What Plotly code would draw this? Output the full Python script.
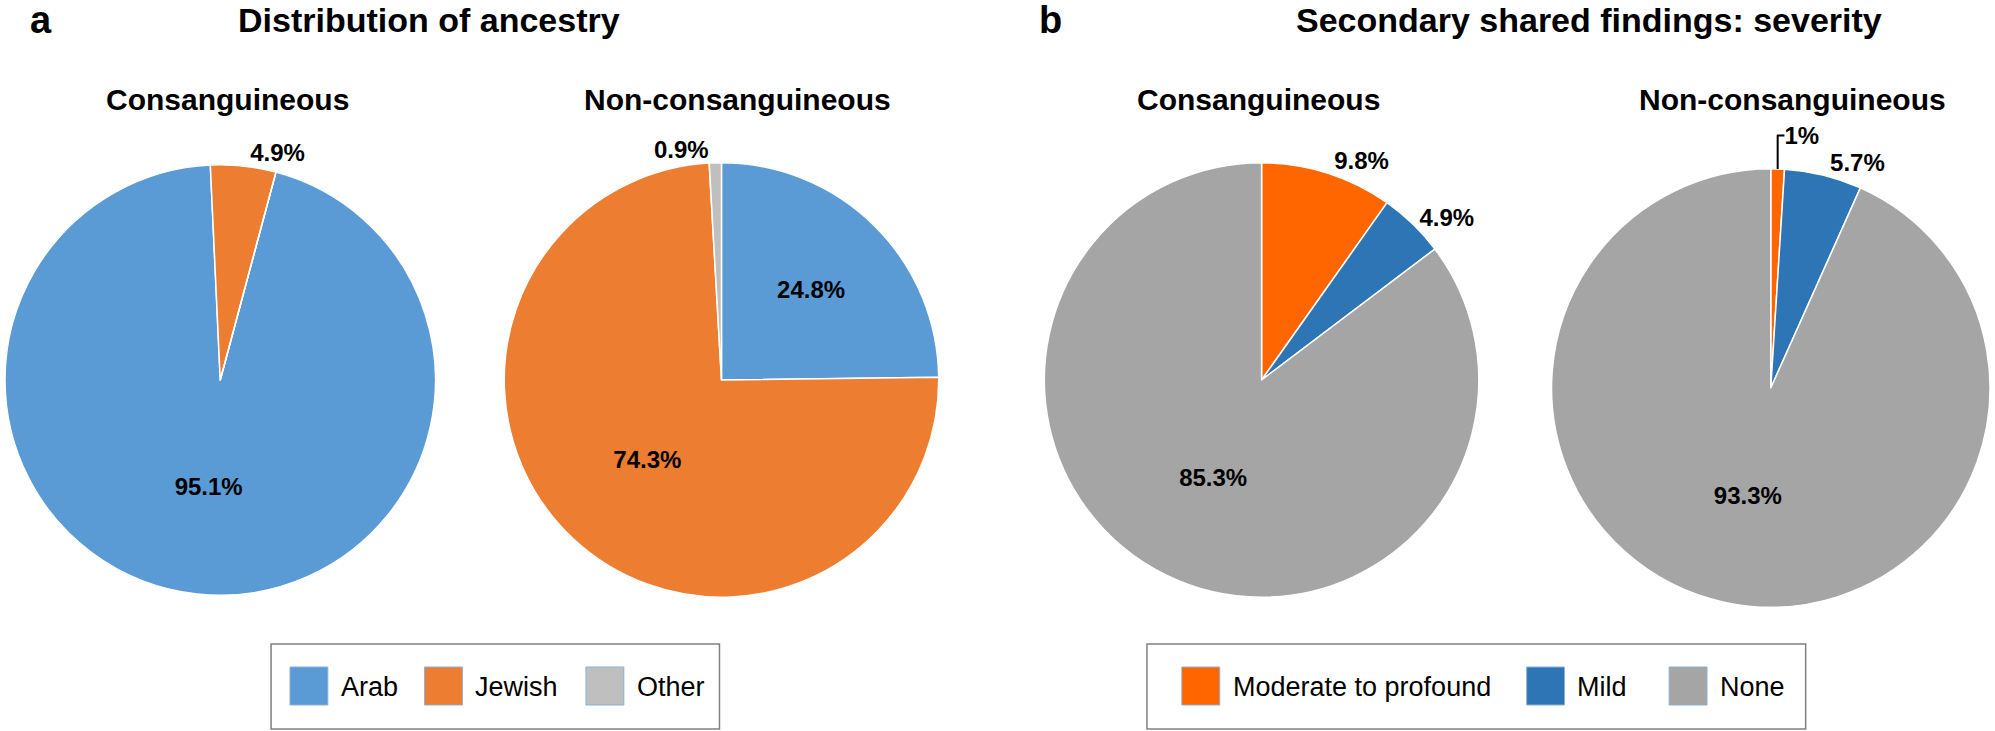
import plotly.graph_objects as go

# ---------------- data ----------------
ancestry_labels = ["Arab", "Jewish", "Other"]
ancestry_colors = ["#5B9BD5", "#ED7D31", "#BFBFBF"]
ancestry_consang = [95.1, 4.9, 0.0]
ancestry_nonconsang = [24.8, 74.3, 0.9]

severity_labels = ["Moderate to profound", "Mild", "None"]
severity_colors = ["#FF6600", "#2E75B6", "#A5A5A5"]
severity_consang = [9.8, 4.9, 85.3]
severity_nonconsang = [1.0, 5.7, 93.3]

panel_titles = ["Distribution of ancestry", "Secondary shared findings: severity"]
panel_letters = ["a", "b"]
pie_titles = ["Consanguineous", "Non-consanguineous", "Consanguineous", "Non-consanguineous"]

# ---------------- layout helpers (pixels) ----------------
W, H = 1995, 731
FONT = "Liberation Sans, Arial, sans-serif"


def px(x):
    return x / W


def py(y):
    return 1 - y / H


def dom(cx, cy, r):
    return dict(x=[max(0, px(cx - r)), min(1, px(cx + r))],
                y=[py(cy + r), py(cy - r)])


def fmt(vals):
    return [("%g%%" % v) if v > 0 else "" for v in vals]


# pie geometry: (cx, cy, r, rotation)
pie_geom = [(216, 380, 216, 15), (719, 380, 218, 0), (1261, 380, 218, 0), (1772, 388, 220, 0)]
pie_title_x = [223, 735, 1258, 1794]
pie_data = [
    (ancestry_labels, ancestry_consang, ancestry_colors, ["inside", "outside", "none"]),
    (ancestry_labels, ancestry_nonconsang, ancestry_colors, ["inside", "inside", "outside"]),
    (severity_labels, severity_consang, severity_colors, ["outside", "outside", "inside"]),
    (severity_labels, severity_nonconsang, severity_colors, ["outside", "outside", "inside"]),
]

fig = go.Figure()
for (labels, vals, cols, tpos), (cx, cy, r, rot) in zip(pie_data, pie_geom):
    fig.add_trace(go.Pie(
        labels=labels, values=vals, sort=False, direction="clockwise", rotation=rot,
        marker=dict(colors=cols, line=dict(color="white", width=1.5)),
        text=fmt(vals), textinfo="text", textposition=tpos,
        insidetextorientation="horizontal",
        textfont=dict(family=FONT, size=24, color="black", weight="bold"),
        domain=dom(cx, cy, r), showlegend=False, hoverinfo="label+percent",
    ))

ann = []
shapes = []
# panel letters and titles
for letter, lx, title, tx in zip(panel_letters, [36, 1049], panel_titles, [425, 1590]):
    ann.append(dict(text=letter, x=px(lx), y=py(20), xref="paper", yref="paper",
                    xanchor="center", yanchor="middle", showarrow=False,
                    font=dict(family=FONT, size=38, color="black", weight="bold")))
    ann.append(dict(text=title, x=px(tx), y=py(20), xref="paper", yref="paper",
                    xanchor="center", yanchor="middle", showarrow=False,
                    font=dict(family=FONT, size=34, color="black", weight="bold")))
for t, tx in zip(pie_titles, pie_title_x):
    ann.append(dict(text=t, x=px(tx), y=py(99), xref="paper", yref="paper",
                    xanchor="center", yanchor="middle", showarrow=False,
                    font=dict(family=FONT, size=30, color="black", weight="bold")))

# legends: boxes, swatches and labels
legend_specs = [
    (ancestry_labels, ancestry_colors, (267, 717), [286, 421, 583]),
    (severity_labels, severity_colors, (1146, 1807), [1181, 1527, 1670]),
]
SW = 38
for labels, cols, (bx0, bx1), xs in legend_specs:
    shapes.append(dict(type="rect", xref="paper", yref="paper",
                       x0=px(bx0), x1=px(bx1), y0=py(729), y1=py(644),
                       line=dict(color="#808080", width=1.5), fillcolor="rgba(0,0,0,0)"))
    for lab, col, x in zip(labels, cols, xs):
        shapes.append(dict(type="rect", xref="paper", yref="paper",
                           x0=px(x), x1=px(x + SW), y0=py(667 + SW), y1=py(667),
                           line=dict(color="#8FAFD3", width=1), fillcolor=col))
        ann.append(dict(text=lab, x=px(x + SW + 11), y=py(687), xref="paper", yref="paper",
                        xanchor="left", yanchor="middle", showarrow=False,
                        font=dict(family=FONT, size=27, color="black")))

fig.update_layout(
    width=W, height=H, margin=dict(l=0, r=0, t=0, b=0),
    paper_bgcolor="white", plot_bgcolor="white",
    font=dict(family=FONT, color="black"),
    annotations=ann, shapes=shapes, showlegend=False,
)

fig.write_html("out.html", config={"displayModeBar": False},
               post_script="document.body.style.margin='0';document.body.style.overflow='hidden';")
